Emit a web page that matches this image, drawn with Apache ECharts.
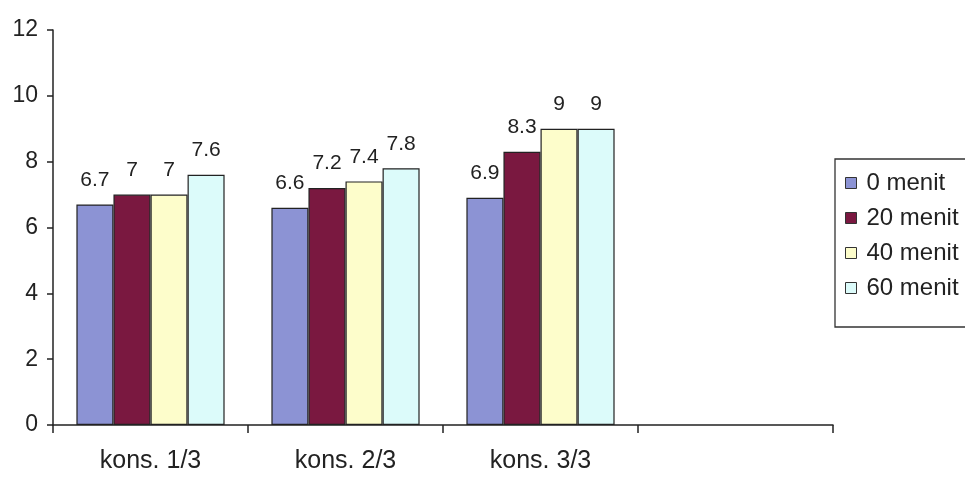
<!DOCTYPE html>
<html><head><meta charset="utf-8">
<script src="https://cdn.jsdelivr.net/npm/echarts@6/dist/echarts.min.js"></script>
<style>html,body{margin:0;padding:0;background:#fff}#c{width:965px;height:479px}</style>
</head><body><div id="c"></div>
<script>
const categories = ['kons. 1/3', 'kons. 2/3', 'kons. 3/3', ''];
const seriesNames = ['0 menit', '20 menit', '40 menit', '60 menit'];
const s0 = [6.7, 6.6, 6.9, null];
const s20 = [7, 7.2, 8.3, null];
const s40 = [7, 7.4, 9, null];
const s60 = [7.6, 7.8, 9, null];
const yTicks = [0, 2, 4, 6, 8, 10, 12];

const colors = ['#8c93d4', '#7a1840', '#fdfdcb', '#dcfbfa'];
const values = [s0, s20, s40, s60];
const chart = echarts.init(document.getElementById('c'));
const font = '"Liberation Sans", Arial, sans-serif';
chart.setOption({
  animation: false,
  backgroundColor: '#fff',
  grid: {left: 53, right: 132, top: 30, bottom: 54, containLabel: false},
  legend: {
    orient: 'vertical', left: 835, top: 159,
    data: seriesNames,
    icon: 'rect',
    itemWidth: 11, itemHeight: 11, itemGap: 11,
    padding: [12, 30, 27, 10],
    borderColor: '#333', borderWidth: 1.3,
    itemStyle: {borderColor: '#333', borderWidth: 1},
    textStyle: {fontFamily: font, fontSize: 24, lineHeight: 24, color: '#222', padding: [0, 0, 0, 5]}
  },
  xAxis: {
    type: 'category', data: categories,
    axisLine: {lineStyle: {color: '#222', width: 1.5}},
    axisTick: {show: true, alignWithLabel: false, length: 8, lineStyle: {color: '#222', width: 1.5}},
    axisLabel: {fontFamily: font, fontSize: 25, color: '#222', margin: 24}
  },
  yAxis: {
    type: 'value', min: yTicks[0], max: yTicks[yTicks.length - 1], interval: 2,
    axisLine: {show: true, lineStyle: {color: '#222', width: 1.5}},
    axisTick: {show: true, length: 6, lineStyle: {color: '#222', width: 1.5}},
    splitLine: {show: false},
    axisLabel: {fontFamily: font, fontSize: 23, color: '#222', margin: 15}
  },
  series: values.map((v, i) => ({
    name: seriesNames[i], type: 'bar', data: v,
    barGap: '0%', barCategoryGap: '24%',
    itemStyle: {color: colors[i], borderColor: '#222', borderWidth: 1.2},
    label: {show: true, position: 'top', distance: 14, fontFamily: font, fontSize: 21, color: '#222'}
  }))
});
</script></body></html>
